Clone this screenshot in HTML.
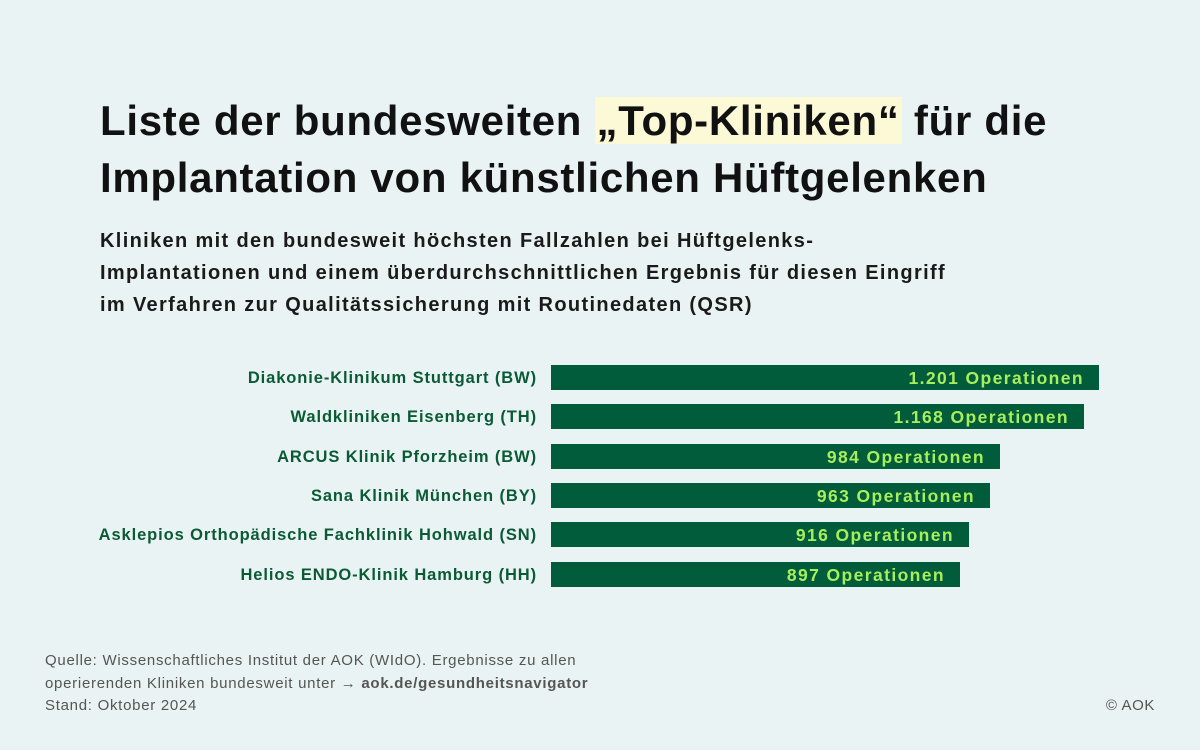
<!DOCTYPE html>
<html><head><meta charset="utf-8"><style>
body{margin:0;width:1200px;height:750px;background:#e9f3f3;font-family:"Liberation Sans",sans-serif;position:relative;overflow:hidden}
.t{position:absolute;left:100px;top:92px;font-size:42px;font-weight:bold;color:#111;line-height:57px;letter-spacing:0.7px}
.hl{background:#fcf9d6;padding:0 2px}
.s{position:absolute;left:100px;top:225px;font-size:20px;font-weight:bold;color:#1a1a1a;line-height:32px;letter-spacing:1.35px}
.l{position:absolute;right:663px;font-size:16.5px;font-weight:bold;color:#0b5a36;white-space:nowrap;letter-spacing:0.9px}
.b{position:absolute;left:550px;height:27px;background:#005c3b;border:1px solid #e8f3f3;box-sizing:border-box;color:#a8ee5c;font-weight:bold;font-size:17.5px;text-align:right;padding-right:15px;line-height:27px;letter-spacing:1.4px}
.f{position:absolute;left:45px;top:650px;font-size:15px;color:#555;line-height:22.5px;letter-spacing:0.72px}
.c{position:absolute;right:45px;top:697px;font-size:15px;color:#555;letter-spacing:0.6px}
</style></head><body>
<div class="t">Liste der bundesweiten <span class="hl">„Top-Kliniken“</span> für die<br>Implantation von künstlichen Hüftgelenken</div>
<div class="s">Kliniken mit den bundesweit höchsten Fallzahlen bei Hüftgelenks-<br>Implantationen und einem überdurchschnittlichen Ergebnis für diesen Eingriff<br>im Verfahren zur Qualitätssicherung mit Routinedaten (QSR)</div>
<div class="l" style="top:369px">Diakonie-Klinikum Stuttgart (BW)</div>
<div class="l" style="top:408px">Waldkliniken Eisenberg (TH)</div>
<div class="l" style="top:448px">ARCUS Klinik Pforzheim (BW)</div>
<div class="l" style="top:487px">Sana Klinik München (BY)</div>
<div class="l" style="top:526px">Asklepios Orthopädische Fachklinik Hohwald (SN)</div>
<div class="l" style="top:566px">Helios ENDO-Klinik Hamburg (HH)</div>
<div class="b" style="top:364px;width:550px">1.201 Operationen</div>
<div class="b" style="top:403px;width:535px">1.168 Operationen</div>
<div class="b" style="top:443px;width:451px">984 Operationen</div>
<div class="b" style="top:482px;width:441px">963 Operationen</div>
<div class="b" style="top:521px;width:420px">916 Operationen</div>
<div class="b" style="top:561px;width:411px">897 Operationen</div>
<div class="f">Quelle: Wissenschaftliches Institut der AOK (WIdO). Ergebnisse zu allen<br>operierenden Kliniken bundesweit unter → <b>aok.de/gesundheitsnavigator</b><br>Stand: Oktober 2024</div>
<div class="c">© AOK</div>
</body></html>
